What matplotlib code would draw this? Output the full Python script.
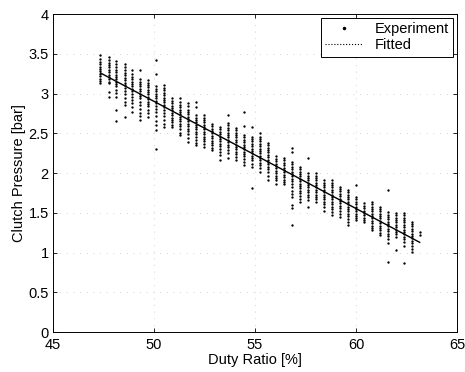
import matplotlib
matplotlib.use("Agg")
import matplotlib.pyplot as plt
from matplotlib.lines import Line2D

plt.rcParams["font.family"] = ["Liberation Sans", "DejaVu Sans"]

# duty ratio of each measurement column [%]
duty = [47.35, 47.75, 48.14, 48.54, 48.93, 49.33, 49.72, 50.12, 50.51, 50.91,
        51.30, 51.70, 52.09, 52.49, 52.88, 53.28, 53.67, 54.07, 54.46, 54.86,
        55.25, 55.65, 56.04, 56.44, 56.83, 57.23, 57.62, 58.02, 58.41, 58.81,
        59.20, 59.60, 59.99, 60.39, 60.78, 61.18, 61.57, 61.97, 62.36, 62.76,
        63.15]

# measured clutch pressure per column [bar]
pressure = [
    [3.48, 3.44, 3.40, 3.37, 3.34, 3.31, 3.28, 3.25, 3.22, 3.19, 3.16, 3.13],
    [3.46, 3.42, 3.39, 3.36, 3.33, 3.30, 3.27, 3.24, 3.21, 3.18, 3.15, 3.13, 3.02, 2.96],
    [3.41, 3.37, 3.33, 3.30, 3.27, 3.24, 3.21, 3.18, 3.15, 3.12, 3.09, 3.05, 3.01, 2.96, 2.79, 2.65],
    [3.37, 3.33, 3.30, 3.26, 3.23, 3.20, 3.17, 3.14, 3.11, 3.07, 3.03, 2.99, 2.94, 2.90, 2.86, 2.71],
    [3.30, 3.25, 3.21, 3.18, 3.15, 3.12, 3.09, 3.06, 3.03, 3.00, 2.96, 2.92, 2.88, 2.83, 2.77],
    [3.30, 3.18, 3.15, 3.12, 3.09, 3.06, 3.03, 3.00, 2.97, 2.94, 2.90, 2.86, 2.81, 2.76, 2.72, 2.67],
    [3.17, 3.14, 3.11, 3.08, 3.05, 3.02, 2.99, 2.96, 2.93, 2.90, 2.87, 2.84, 2.80, 2.76, 2.71],
    [3.42, 3.25, 3.09, 3.06, 3.03, 3.00, 2.97, 2.94, 2.91, 2.88, 2.85, 2.81, 2.77, 2.72, 2.66, 2.60, 2.54, 2.31],
    [3.11, 3.07, 3.04, 3.01, 2.98, 2.95, 2.92, 2.89, 2.86, 2.83, 2.80, 2.76, 2.72, 2.67, 2.62, 2.58],
    [2.94, 2.91, 2.88, 2.85, 2.82, 2.79, 2.76, 2.73, 2.70, 2.67, 2.64, 2.61, 2.58],
    [2.94, 2.90, 2.86, 2.83, 2.80, 2.77, 2.74, 2.71, 2.68, 2.65, 2.62, 2.59, 2.55, 2.51, 2.48],
    [2.88, 2.84, 2.80, 2.77, 2.74, 2.71, 2.68, 2.65, 2.62, 2.59, 2.56, 2.53, 2.49, 2.44, 2.39],
    [2.90, 2.83, 2.73, 2.70, 2.67, 2.64, 2.61, 2.58, 2.55, 2.52, 2.49, 2.46, 2.42, 2.38, 2.35],
    [2.73, 2.70, 2.67, 2.64, 2.61, 2.58, 2.55, 2.52, 2.49, 2.46, 2.43, 2.40, 2.37, 2.33],
    [2.62, 2.59, 2.56, 2.53, 2.50, 2.47, 2.44, 2.41, 2.38, 2.35, 2.32, 2.29],
    [2.58, 2.55, 2.52, 2.49, 2.46, 2.43, 2.40, 2.37, 2.34, 2.31, 2.27, 2.23, 2.16],
    [2.73, 2.63, 2.60, 2.57, 2.54, 2.51, 2.48, 2.45, 2.42, 2.39, 2.36, 2.33, 2.29, 2.25, 2.19],
    [2.57, 2.54, 2.51, 2.48, 2.45, 2.42, 2.39, 2.36, 2.33, 2.30, 2.27, 2.24, 2.20, 2.16],
    [2.77, 2.59, 2.48, 2.45, 2.42, 2.39, 2.36, 2.33, 2.30, 2.27, 2.24, 2.21, 2.18, 2.14, 2.10],
    [2.58, 2.46, 2.43, 2.40, 2.37, 2.34, 2.31, 2.28, 2.25, 2.22, 2.19, 2.16, 2.12, 2.08, 1.81],
    [2.51, 2.46, 2.43, 2.40, 2.37, 2.34, 2.31, 2.28, 2.25, 2.22, 2.19, 2.16, 2.13, 2.10, 2.06, 2.02],
    [2.38, 2.35, 2.32, 2.29, 2.26, 2.23, 2.20, 2.17, 2.14, 2.11, 2.08, 2.05, 2.01, 1.96, 1.91],
    [2.21, 2.18, 2.15, 2.12, 2.09, 2.06, 2.03, 2.00, 1.97, 1.94, 1.91, 1.87],
    [2.19, 2.16, 2.13, 2.10, 2.07, 2.04, 2.01, 1.98, 1.95, 1.92, 1.89, 1.87],
    [2.32, 2.27, 2.14, 2.11, 2.08, 2.05, 2.02, 1.99, 1.96, 1.93, 1.90, 1.86, 1.82, 1.78, 1.74, 1.70, 1.60, 1.56, 1.35],
    [2.08, 2.05, 2.02, 1.99, 1.96, 1.93, 1.90, 1.87, 1.84, 1.81, 1.78, 1.75, 1.71, 1.67, 1.64],
    [2.19, 2.00, 1.97, 1.94, 1.91, 1.88, 1.85, 1.82, 1.79, 1.76, 1.73, 1.70, 1.66, 1.58],
    [2.00, 1.97, 1.94, 1.91, 1.88, 1.85, 1.82, 1.79, 1.76, 1.73, 1.70, 1.67, 1.64],
    [1.91, 1.88, 1.85, 1.82, 1.79, 1.76, 1.73, 1.70, 1.67, 1.64, 1.61, 1.57, 1.53],
    [1.91, 1.88, 1.85, 1.82, 1.79, 1.76, 1.73, 1.70, 1.67, 1.64, 1.61, 1.58, 1.55, 1.51, 1.47],
    [1.83, 1.80, 1.77, 1.74, 1.71, 1.68, 1.65, 1.62, 1.59, 1.56, 1.53, 1.49, 1.45],
    [1.79, 1.76, 1.73, 1.70, 1.67, 1.64, 1.61, 1.58, 1.55, 1.52, 1.49, 1.46, 1.42, 1.38, 1.35],
    [1.85, 1.70, 1.67, 1.64, 1.61, 1.58, 1.55, 1.52, 1.49, 1.46, 1.43, 1.41],
    [1.62, 1.59, 1.56, 1.53, 1.50, 1.47, 1.44, 1.41, 1.38],
    [1.64, 1.61, 1.58, 1.55, 1.52, 1.49, 1.46, 1.43, 1.40, 1.37, 1.34, 1.31, 1.28],
    [1.58, 1.55, 1.52, 1.49, 1.46, 1.43, 1.40, 1.37, 1.34, 1.31, 1.28, 1.25, 1.22],
    [1.79, 1.51, 1.48, 1.45, 1.42, 1.39, 1.36, 1.33, 1.30, 1.27, 1.24, 1.21, 1.17, 1.12, 0.88],
    [1.50, 1.47, 1.44, 1.41, 1.38, 1.35, 1.32, 1.29, 1.26, 1.23, 1.20, 1.03],
    [1.50, 1.47, 1.44, 1.41, 1.38, 1.35, 1.32, 1.29, 1.26, 1.23, 1.20, 1.17, 1.13, 1.09, 0.87],
    [1.39, 1.36, 1.33, 1.30, 1.27, 1.24, 1.21, 1.18, 1.15, 1.12, 1.09, 1.05, 1.01],
    [1.26, 1.22],
]

# fitted line end points
fit_duty = [47.35, 63.15]
fit_pressure = [3.26, 1.13]

xticks = [45, 50, 55, 60, 65]
yticks = [0, 0.5, 1, 1.5, 2, 2.5, 3, 3.5, 4]
ytick_labels = ["0", "0.5", "1", "1.5", "2", "2.5", "3", "3.5", "4"]

fig = plt.figure(figsize=(4.65, 3.72), dpi=100)
ax = fig.add_axes([0.114, 0.107, 0.869, 0.855])

xs = []
ys = []
for d, col in zip(duty, pressure):
    xs += [d] * len(col)
    ys += col
ax.plot(xs, ys, ".", color="black", markersize=3.4, markeredgewidth=0)
ax.plot(fit_duty, fit_pressure, "-", color="black", linewidth=1.0)

ax.set_xlim(45, 65)
ax.set_ylim(0, 4)
ax.set_xticks(xticks)
ax.set_yticks(yticks)
ax.set_yticklabels(ytick_labels)
ax.tick_params(direction="in", top=True, right=True, length=3,
               width=0.6, labelsize=10.5)
ax.tick_params(axis="x", pad=4)
ax.tick_params(axis="y", pad=3)
for s in ax.spines.values():
    s.set_linewidth(0.7)
ax.grid(True, linestyle=(0, (1, 7)), color="#c4c4c4", linewidth=0.6)

ax.set_xlabel("Duty Ratio [%]", fontsize=10.5, labelpad=1)
ax.set_ylabel("Clutch Pressure [bar]", fontsize=10.5, labelpad=2)

handles = [
    Line2D([], [], linestyle="none", marker=".", color="black", markersize=3),
    Line2D([], [], linestyle=":", color="black", linewidth=0.8),
]
leg = ax.legend(handles, ["Experiment", "Fitted"], loc="upper right",
                fontsize=10.5, frameon=True, fancybox=False, framealpha=1,
                edgecolor="black", borderpad=0.3, labelspacing=0.15,
                handlelength=2.6, handletextpad=0.8, borderaxespad=0.25)
leg.get_frame().set_linewidth(0.7)

fig.savefig("out.png", dpi=100)
